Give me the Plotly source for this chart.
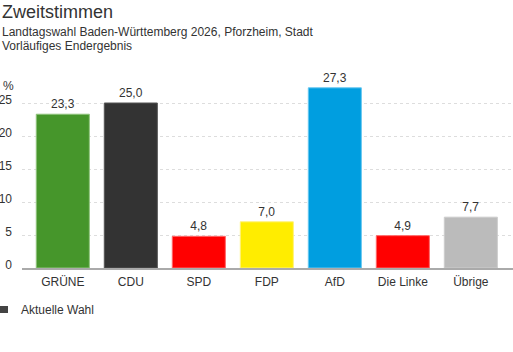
import plotly.graph_objects as go

parties = ["GRÜNE", "CDU", "SPD", "FDP", "AfD", "Die Linke", "Übrige"]
values = [23.3, 25.0, 4.8, 7.0, 27.3, 4.9, 7.7]
labels = ["23,3", "25,0", "4,8", "7,0", "27,3", "4,9", "7,7"]
colors = ["#46962b", "#333333", "#ff0000", "#ffed00", "#009ee0", "#ff0000", "#bbbbbb"]
outlines = ["#8fc47c", "#555555", "#ff6666", "#fff27a", "#66c7f0", "#ff6666", "#cccccc"]
y_ticks = [0, 5, 10, 15, 20, 25]
legend_name = "Aktuelle Wahl"
legend_color = "#444444"

FONT = "Liberation Sans, Arial, sans-serif"
TXT = "#333333"

L, T, W, H = 22, 70, 491, 198  # plot area in px

def px(xp):
    return (xp - L) / W

def py(yp):
    return 1 - (yp - T) / H

fig = go.Figure()
fig.add_trace(go.Bar(
    x=parties, y=values, text=labels, textposition="outside",
    textfont=dict(size=12, color=TXT, family=FONT),
    marker=dict(color=colors, line=dict(color=outlines, width=1)),
    cliponaxis=False, showlegend=False, hoverinfo="skip", name=legend_name,
))

fig.update_layout(
    width=513, height=352,
    margin=dict(l=L, r=513 - L - W, t=T, b=352 - T - H),
    paper_bgcolor="white", plot_bgcolor="white",
    font=dict(family=FONT, size=12, color=TXT),
    bargap=0.22,
    showlegend=False,
    xaxis=dict(type="category", range=[-0.6, 6.62], showline=True, linecolor="#aaaaaa",
               linewidth=2, ticks="", tickfont=dict(size=12, color=TXT),
               ticklabelstandoff=2,
               showgrid=False, fixedrange=True, automargin=False),
    yaxis=dict(range=[0, 30], tickvals=y_ticks, ticktext=[str(v) for v in y_ticks],
               showgrid=True, gridcolor="#dddddd", griddash="dot", gridwidth=1,
               zeroline=False, showline=False, ticklabelstandoff=9, ticklabelshift=-3,
               tickfont=dict(size=12, color=TXT), fixedrange=True, automargin=False),
)

fig.add_annotation(text="Zweitstimmen", xref="paper", yref="paper", x=px(0), y=py(0),
                   xanchor="left", yanchor="top", showarrow=False,
                   font=dict(size=18, color=TXT))
fig.add_annotation(text="Landtagswahl Baden-Württemberg 2026, Pforzheim, Stadt",
                   xref="paper", yref="paper", x=px(0), y=py(23),
                   xanchor="left", yanchor="top", showarrow=False,
                   font=dict(size=12, color=TXT))
fig.add_annotation(text="Vorläufiges Endergebnis",
                   xref="paper", yref="paper", x=px(0), y=py(37),
                   xanchor="left", yanchor="top", showarrow=False,
                   font=dict(size=12, color=TXT))
fig.add_annotation(text="%", xref="paper", yref="paper", x=px(1), y=py(77),
                   xanchor="left", yanchor="top", showarrow=False,
                   font=dict(size=12, color=TXT))

# legend
fig.add_shape(type="rect", xref="paper", yref="paper", x0=px(0), x1=px(8), y0=py(306), y1=py(313),
              fillcolor=legend_color, line=dict(width=0))
fig.add_annotation(text=legend_name, xref="paper", yref="paper", x=px(19), y=py(310),
                   xanchor="left", yanchor="middle", showarrow=False,
                   font=dict(size=12, color=TXT))

fig.write_html("out.html")
